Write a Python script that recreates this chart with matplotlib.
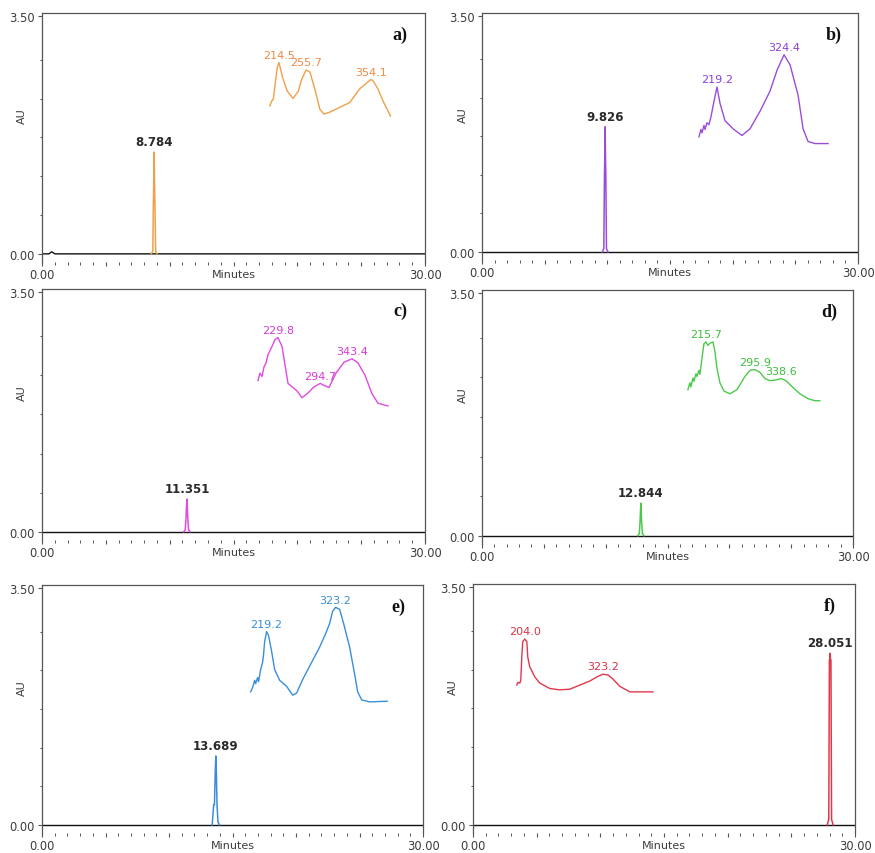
import numpy as np
import matplotlib.pyplot as plt
from matplotlib.ticker import FixedLocator, NullFormatter

# --- chromatogram peaks (time in min, absorbance in AU) ---
rt_labels = ['8.784', '9.826', '11.351', '12.844', '13.689', '28.051']

peak_a_t = [8.55, 8.68, 8.72, 8.76, 8.784, 8.81, 8.85, 8.90, 9.02]
peak_a_au = [0.0, 0.04, 0.70, 1.10, 1.50, 1.10, 0.70, 0.04, 0.0]
peak_b_t = [9.60, 9.72, 9.77, 9.80, 9.826, 9.85, 9.88, 9.93, 10.05]
peak_b_au = [0.0, 0.05, 1.15, 1.45, 1.86, 1.45, 1.15, 0.05, 0.0]
peak_c_t = [11.10, 11.22, 11.28, 11.32, 11.351, 11.38, 11.42, 11.48, 11.60]
peak_c_au = [0.0, 0.03, 0.20, 0.38, 0.48, 0.38, 0.20, 0.03, 0.0]
peak_d_t = [12.60, 12.72, 12.78, 12.82, 12.844, 12.87, 12.91, 12.97, 13.09]
peak_d_au = [0.0, 0.03, 0.20, 0.37, 0.47, 0.37, 0.20, 0.03, 0.0]
peak_e_t = [13.40, 13.52, 13.58, 13.64, 13.689, 13.73, 13.78, 13.86, 13.98]
peak_e_au = [0.0, 0.30, 0.30, 0.78, 1.02, 0.78, 0.30, 0.04, 0.0]
peak_f_t = [27.82, 27.94, 27.99, 28.03, 28.051, 28.07, 28.11, 28.16, 28.28]
peak_f_au = [0.0, 0.08, 2.43, 2.43, 2.53, 2.43, 2.43, 0.08, 0.0]

# solvent front blip in run a
front_t = [0.0, 0.55, 0.75, 0.85, 1.0, 30.0]
front_au = [0.0, 0.0, 0.03, 0.02, 0.0, 0.0]

# --- UV spectra of the main peak (wavelength nm, absorbance) ---
spec_a_nm = [200.8, 203.4, 205.9, 208.4, 212.0, 214.5, 220.0, 227.0, 236.0, 244.0,
             249.0, 255.7, 261.5, 269.0, 276.7, 283.0, 292.0, 307.0, 322.0, 337.0,
             354.1, 357.6, 365.0, 372.8, 384.0]
spec_a_au = [2.18, 2.25, 2.28, 2.48, 2.75, 2.82, 2.60, 2.40, 2.29, 2.40,
             2.57, 2.71, 2.68, 2.43, 2.13, 2.06, 2.09, 2.16, 2.23, 2.43,
             2.57, 2.55, 2.43, 2.25, 2.03]
spec_a_peaks = [214.5, 255.7, 354.1]

spec_b_nm = [190.9, 194.0, 195.7, 198.8, 200.4, 203.5, 206.6, 209.8, 214.5, 219.2,
             223.9, 231.8, 244.3, 258.5, 271.0, 286.7, 302.4, 313.4, 324.4, 333.8,
             346.4, 354.2, 362.1, 373.0, 393.5]
spec_b_au = [1.71, 1.82, 1.77, 1.88, 1.82, 1.92, 1.89, 2.01, 2.24, 2.45,
             2.21, 1.95, 1.83, 1.73, 1.83, 2.09, 2.39, 2.70, 2.93, 2.78,
             2.33, 1.83, 1.64, 1.61, 1.61]
spec_b_peaks = [219.2, 324.4]

spec_c_nm = [199.1, 202.1, 205.2, 208.3, 211.4, 214.4, 220.6, 225.2, 229.8, 236.0,
             240.6, 245.2, 251.3, 259.0, 266.7, 275.9, 285.1, 294.7, 300.5, 308.1,
             318.9, 331.2, 343.4, 352.6, 363.4, 374.1, 383.4, 398.7]
spec_c_au = [2.21, 2.32, 2.27, 2.41, 2.47, 2.59, 2.71, 2.81, 2.84, 2.71,
             2.44, 2.17, 2.12, 2.06, 1.96, 2.03, 2.12, 2.17, 2.14, 2.11,
             2.32, 2.48, 2.53, 2.47, 2.29, 2.02, 1.88, 1.84]
spec_c_peaks = [229.8, 294.7, 343.4]

spec_d_nm = [186.2, 189.5, 191.2, 194.4, 196.1, 199.3, 201.0, 204.2, 205.9, 209.2,
             212.4, 215.7, 219.0, 222.2, 227.2, 230.4, 233.7, 238.6, 245.2, 255.0,
             266.4, 279.5, 287.7, 295.9, 304.1, 312.3, 320.5, 330.3, 338.6, 346.6,
             358.1, 369.6, 382.6, 394.1, 402.0]
spec_d_au = [2.11, 2.21, 2.15, 2.28, 2.23, 2.34, 2.30, 2.39, 2.33, 2.56,
             2.77, 2.80, 2.75, 2.78, 2.80, 2.66, 2.42, 2.21, 2.09, 2.05,
             2.11, 2.30, 2.39, 2.40, 2.36, 2.27, 2.24, 2.25, 2.27, 2.24,
             2.14, 2.05, 1.98, 1.95, 1.95]
spec_d_peaks = [215.7, 295.9, 338.6]

spec_e_nm = [195.1, 198.1, 201.1, 202.6, 205.6, 207.1, 210.2, 211.7, 213.2, 214.7,
             216.2, 219.2, 222.2, 226.7, 231.3, 238.8, 249.4, 258.4, 264.4, 273.5,
             284.1, 299.1, 308.2, 314.2, 318.7, 323.2, 329.3, 335.3, 344.4, 351.9,
             356.5, 362.5, 374.5, 401.0]
spec_e_au = [1.97, 2.03, 2.14, 2.09, 2.18, 2.12, 2.30, 2.35, 2.41, 2.53,
             2.71, 2.86, 2.80, 2.57, 2.30, 2.14, 2.05, 1.92, 1.95, 2.15,
             2.35, 2.63, 2.83, 2.98, 3.16, 3.22, 3.19, 2.98, 2.63, 2.23,
             1.97, 1.85, 1.82, 1.83]
spec_e_peaks = [219.2, 323.2]

spec_f_nm = [191.8, 193.3, 196.4, 197.9, 199.4, 200.9, 204.0, 207.1, 208.6, 211.6,
             219.3, 226.9, 242.2, 257.5, 272.8, 288.1, 303.4, 314.1, 323.2, 330.9,
             338.6, 349.3, 364.6, 399.7]
spec_f_au = [2.06, 2.10, 2.09, 2.13, 2.47, 2.70, 2.74, 2.70, 2.47, 2.33,
             2.18, 2.09, 2.01, 1.99, 2.00, 2.06, 2.12, 2.18, 2.22, 2.21,
             2.15, 2.04, 1.96, 1.96]
spec_f_peaks = [204.0, 323.2]

panel_letters = ['a)', 'b)', 'c)', 'd)', 'e)', 'f)']
line_colors = ['#EFA049', '#9A4CDA', '#E04AE0', '#4CC94C', '#3A8ED8', '#E0384A']
text_colors = ['#EE8A45', '#8B3FD6', '#D63AD6', '#3DBF3D', '#3A8ED8', '#D83344']

# axes boxes in pixels: left, top, width, height
W, H = 875, 854
boxes = [(42, 14, 383, 249), (482, 14, 376, 247),
         (42, 290, 383, 251), (482, 291, 371, 254),
         (42, 586, 381, 248), (473, 585, 382, 249)]
# spectrum placement: left edge (axes fraction) and width for 185-405 nm
spec_boxes = [(0.568, 0.378), (0.567, 0.373), (0.540, 0.374),
              (0.553, 0.3625), (0.530, 0.383), (0.103, 0.377)]

peaks = [(peak_a_t, peak_a_au), (peak_b_t, peak_b_au), (peak_c_t, peak_c_au),
         (peak_d_t, peak_d_au), (peak_e_t, peak_e_au), (peak_f_t, peak_f_au)]
spectra = [(spec_a_nm, spec_a_au, spec_a_peaks), (spec_b_nm, spec_b_au, spec_b_peaks),
           (spec_c_nm, spec_c_au, spec_c_peaks), (spec_d_nm, spec_d_au, spec_d_peaks),
           (spec_e_nm, spec_e_au, spec_e_peaks), (spec_f_nm, spec_f_au, spec_f_peaks)]

YMIN, YMAX = -0.12, 3.55
grey = '#3c3c3c'

fig = plt.figure(figsize=(W / 100, H / 100), dpi=100)

for i in range(6):
    l, t, w, h = boxes[i]
    ax = fig.add_axes([l / W, 1 - (t + h) / H, w / W, h / H])
    ax.set_xlim(0, 30)
    ax.set_ylim(YMIN, YMAX)

    # baseline across the run, then the peak in the run colour
    if i == 0:
        ax.plot(front_t, front_au, color='#111111', lw=1.0, zorder=2)
    else:
        ax.plot([0, 30], [0, 0], color='#111111', lw=1.0, zorder=2)
    pt, pau = peaks[i]
    ax.plot(pt, pau, color=line_colors[i], lw=1.1, zorder=3)
    top = max(pau)
    rt = pt[int(np.argmax(pau))]
    ax.annotate(rt_labels[i], (rt, top), xytext=(0, 3), textcoords='offset points',
                ha='center', va='bottom', fontsize=8.5, fontweight='bold', color='#2a2a2a')

    # frame
    for side in ['top', 'left', 'right']:
        ax.spines[side].set_color('#555555')
        ax.spines[side].set_linewidth(0.9)
    ax.spines['bottom'].set_visible(False)

    ax.xaxis.set_major_locator(FixedLocator([0, 5, 10, 15, 20, 25, 30]))
    ax.xaxis.set_minor_locator(FixedLocator(np.arange(1, 30, 1)))
    ax.set_xticklabels(['0.00', '', '', '', '', '', '30.00'])
    ax.yaxis.set_major_locator(FixedLocator([0, 3.5]))
    ax.yaxis.set_minor_locator(FixedLocator(np.arange(0.572, 3.2, 0.572)))
    ax.yaxis.set_minor_formatter(NullFormatter())
    ax.set_yticklabels(['0.00', '3.50'])
    ax.tick_params(axis='both', which='major', length=2.8, width=0.8, color='#555555',
                   labelsize=8.3, labelcolor=grey, pad=2.5)
    ax.tick_params(axis='x', which='major', pad=1.5)
    ax.tick_params(axis='both', which='minor', length=1.8, width=0.7, color='#555555')

    ax.text(0.5, -0.048, 'Minutes', transform=ax.transAxes, ha='center', va='center',
            fontsize=8, color=grey)
    ax.text(-0.052, 0.59, 'AU', transform=ax.transAxes, ha='center', va='center',
            rotation=90, fontsize=8, color=grey)
    ax.text(0.935, 0.915, panel_letters[i], transform=ax.transAxes, ha='center',
            va='center', fontsize=13, fontweight='bold', family='Liberation Serif',
            color='#111111')

    # UV spectrum of the peak, sharing the AU scale
    x0, sw = spec_boxes[i]
    ins = ax.inset_axes([x0, 0, sw, YMAX], transform=ax.get_yaxis_transform())
    ins.set_xlim(185, 405)
    ins.set_ylim(0, YMAX)
    ins.axis('off')
    ins.patch.set_alpha(0)
    snm, sau, spk = spectra[i]
    ins.plot(snm, sau, color=line_colors[i], lw=1.0)
    for wl in spk:
        a = float(np.interp(wl, snm, sau))
        ins.annotate(f'{wl:.1f}', (wl, a), xytext=(0, 2), textcoords='offset points',
                     ha='center', va='bottom', fontsize=8, color=text_colors[i])

fig.savefig('out.png', dpi=100)
